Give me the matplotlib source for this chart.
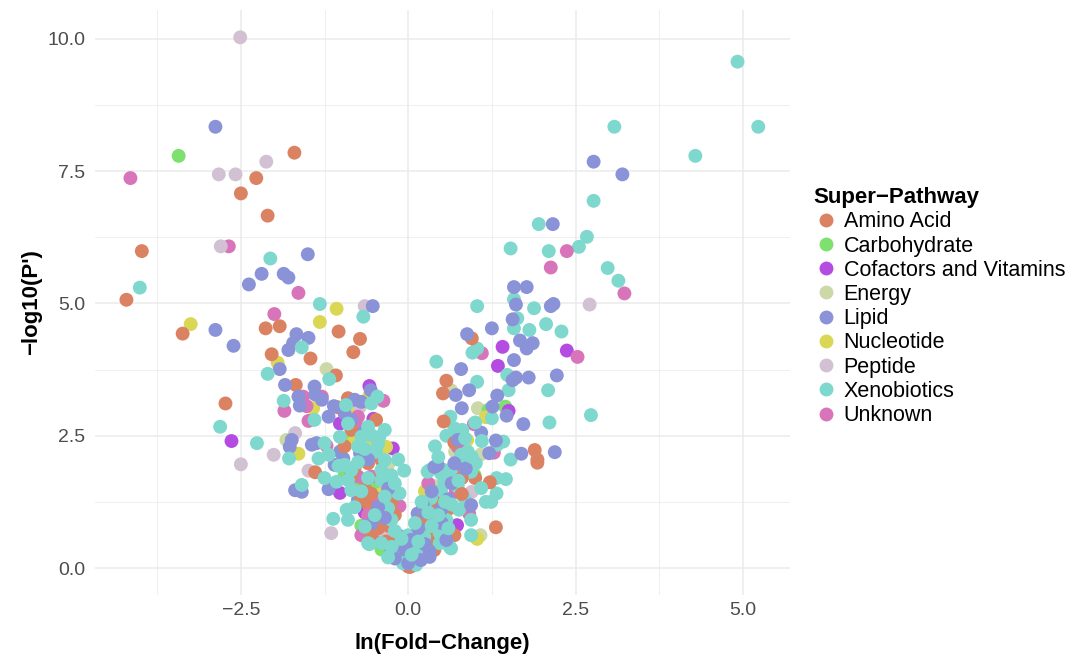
import matplotlib
matplotlib.use("Agg")
import matplotlib.pyplot as plt
from matplotlib.lines import Line2D

plt.rcParams['font.family'] = ['Liberation Sans', 'DejaVu Sans']

categories = ["Amino Acid", "Carbohydrate", "Cofactors and Vitamins", "Energy", "Lipid",
              "Nucleotide", "Peptide", "Xenobiotics", "Unknown"]
colors = ["#DA8262", "#7EE06E", "#B54CE1", "#CDD8A8", "#8A92D8",
          "#DAD755", "#D2C1D2", "#7ED8CD", "#D874B9"]

amino = [(-1.70,7.85),(-2.27,7.37),(-2.50,7.08),(-2.10,6.66),(-3.98,5.99),(-4.21,5.07),(-3.37,4.43),
         (-2.13,4.53),(-1.92,4.57),(-2.04,4.04),(-1.68,3.46),(-2.73,3.11),(-1.04,4.47),(-0.72,4.33),
         (-0.82,4.08),(-1.46,3.96),(-1.08,3.64),(-1.06,3.04),(-0.90,3.21),(-0.48,2.80),(-0.85,2.61),
         (-1.39,1.81),(-0.60,1.98),(-0.85,1.76),(-0.65,1.51),(-0.40,1.79),(-0.58,1.16),(-0.35,1.25),
         (-0.25,1.25),(-0.45,0.75),(-0.33,0.50),(-0.20,1.00),(0.00,0.03),(0.04,0.03),(0.95,4.34),
         (0.57,3.54),(0.52,3.30),(0.53,2.77),(0.69,2.37),(1.89,2.23),(1.93,2.05),(1.93,1.99),
         (1.22,1.62),(1.00,1.70),(0.66,1.63),(0.39,1.32),(0.62,1.13),(0.27,0.88),(0.52,0.78),
         (1.31,0.77),(0.69,0.62),(0.37,0.53),(0.17,0.66),(0.39,0.34),(0.02,0.02),(-0.40,2.04),
         (-0.13,0.21),(0.49,0.72),(0.29,0.53),(-0.55,1.40),(-0.30,0.80),(0.20,0.90),(0.45,1.20),
         (-0.70,1.30),(0.10,0.30),(-0.15,0.55),(0.80,1.40),(-0.95,2.30),(-0.55,0.60),(0.35,0.95),
         (-0.20,0.45),(0.10,0.15),(0.80,1.70),(-0.80,1.90)]
carbohydrate = [(-3.43,7.79),(-0.90,2.45),(-0.75,1.60),(-0.53,1.51),(-0.35,1.57),(-0.63,1.19),
                (-0.25,0.28),(-0.20,0.28),(0.99,1.76),(1.20,2.99),(1.45,3.05),(-0.70,0.80),
                (-0.45,0.95),(0.30,0.70),(-0.95,1.75),(-0.40,0.35),(-0.10,0.30),(0.55,1.05)]
cofactors = [(-2.64,2.40),(-0.58,3.44),(-1.02,2.73),(-0.52,2.82),(-0.23,2.26),(-1.02,1.42),
             (-0.43,0.53),(1.41,4.18),(2.37,4.11),(1.34,3.82),(1.50,2.97),(0.73,0.81),(0.09,0.59),
             (-0.65,1.05)]
energy = [(-1.82,2.42),(-1.22,3.76),(0.64,3.36),(1.04,3.02),(1.09,2.15),(1.08,0.62),
          (-0.60,1.20),(0.40,1.55),(-0.30,1.95),(0.70,2.20)]
lipid = [(-2.88,8.34),(-1.50,5.93),(-2.19,5.56),(-1.86,5.56),(-1.79,5.49),(-2.38,5.36),(-0.53,4.95),
         (-2.88,4.50),(-2.61,4.20),(-1.92,3.76),(-1.79,4.12),(-1.72,4.25),(-1.84,3.46),(-1.67,4.42),
         (-1.49,4.35),(-1.40,3.43),(-1.39,3.28),(-1.64,3.24),(-1.62,3.07),(-1.29,3.18),(-1.19,2.86),
         (-1.11,3.06),(-0.80,3.18),(-0.70,3.14),(-0.56,3.36),(-0.95,2.92),(-0.85,2.80),(-0.65,2.58),
         (-1.77,2.29),(-1.74,2.42),(-1.44,2.33),(-1.37,2.36),(-1.02,2.20),(-1.10,1.95),(-0.97,2.07),
         (-0.72,2.17),(-1.69,1.47),(-1.59,1.44),(-1.19,1.49),(-0.75,1.29),(-0.55,0.84),(-0.15,0.62),
         (0.14,1.03),(-0.15,0.25),(1.61,4.98),(2.13,4.95),(2.17,4.99),(1.56,4.70),(1.25,4.53),
         (0.88,4.42),(1.67,4.30),(1.86,4.25),(1.77,4.15),(1.58,3.93),(0.79,3.76),(1.61,3.60),
         (1.56,3.55),(1.80,3.60),(2.22,3.64),(0.71,3.27),(0.91,3.36),(1.33,3.26),(0.80,3.02),
         (1.26,3.05),(1.47,2.88),(1.72,2.72),(1.09,2.56),(0.74,2.42),(1.31,2.41),(2.19,2.19),
         (1.69,2.16),(1.21,2.17),(0.86,1.88),(0.69,1.98),(0.39,1.91),(0.94,1.19),(0.22,1.19),
         (0.24,1.06),(0.49,1.10),(0.42,0.91),(0.57,0.53),(0.32,0.21),(0.04,0.53),(0.19,0.15),
         (0.44,1.95),(0.32,0.31),(-0.20,0.18),(0.00,0.09),(0.09,0.53),(2.77,7.68),(3.20,7.44),
         (2.16,6.50),(1.58,5.31),(1.77,5.31),(-0.30,1.50),(-0.45,1.15),(0.15,0.75),(-0.05,0.35),
         (0.60,1.30),(-0.35,0.95),(0.35,1.45),(0.65,1.60),(-0.60,2.05),(0.25,0.45),(-0.25,0.35),
         (0.50,0.85)]
nucleotide = [(-1.07,4.90),(-1.32,4.65),(-3.25,4.61),(-1.95,3.88),(-1.42,3.02),(-0.80,3.05),
              (-0.58,3.25),(-0.82,2.38),(-0.53,2.36),(-0.33,2.29),(-1.64,2.16),(0.88,2.42),
              (1.16,2.85),(1.03,0.55),(-0.40,1.40),(0.25,1.45)]
peptide = [(-2.51,10.03),(-2.12,7.68),(-2.83,7.44),(-2.58,7.44),(-2.80,6.08),(-0.65,4.95),
           (-2.01,2.14),(-2.50,1.96),(-1.69,2.55),(-0.72,3.05),(-1.49,1.84),(-1.15,0.66),
           (0.95,1.44),(2.71,4.98),(-0.35,0.65)]
xenobiotics = [(4.92,9.57),(5.23,8.34),(3.08,8.34),(4.29,7.79),(2.77,6.94),(1.95,6.50),(1.53,6.04),
               (2.10,5.99),(2.55,6.07),(2.67,6.26),(2.98,5.67),(3.14,5.43),(1.58,5.08),(1.03,4.95),
               (1.88,4.91),(1.63,4.72),(1.58,4.53),(1.81,4.50),(2.06,4.61),(2.29,4.47),(1.03,4.15),
               (0.96,4.07),(0.42,3.90),(1.48,3.65),(1.50,3.36),(2.09,3.36),(1.03,3.52),(1.25,2.83),
               (2.73,2.89),(2.11,2.75),(0.63,2.86),(0.57,2.50),(0.81,2.61),(0.69,2.64),(1.42,2.39),
               (1.33,2.33),(1.53,2.05),(0.89,2.20),(0.79,2.14),(1.46,1.68),(1.32,1.70),(1.32,1.41),
               (1.16,1.25),(1.24,1.25),(1.09,1.51),(0.86,1.79),(1.01,1.98),(0.94,1.82),(0.84,2.04),
               (0.64,1.79),(0.49,1.79),(0.29,1.82),(0.54,1.63),(0.74,1.54),(0.84,1.32),(0.49,1.47),
               (-0.13,1.41),(0.37,1.13),(0.76,1.10),(0.94,0.91),(0.57,0.91),(0.94,0.62),(0.64,0.37),
               (0.47,0.66),(0.19,0.40),(0.24,0.59),(0.27,0.28),(-0.08,0.09),(0.12,0.06),(0.32,1.85),
               (0.54,1.85),(0.34,1.32),(0.47,0.47),(0.62,0.40),(0.19,0.21),(0.09,0.12),(0.14,0.40),
               (0.00,0.62),(-0.10,0.40),(-0.06,0.12),(-0.25,0.91),(-0.58,0.45),(-0.65,0.78),
               (-0.30,1.13),(-0.92,1.10),(-1.12,0.93),(-0.90,0.91),(-0.15,1.41),(-0.40,1.66),
               (-0.90,1.66),(-0.85,1.47),(-1.07,1.63),(-1.25,1.70),(-1.59,1.57),(-0.06,1.84),
               (-0.48,2.20),(-0.35,2.04),(-1.34,2.07),(-1.19,2.14),(-1.04,1.93),(-0.50,2.20),
               (-0.40,1.85),(-0.85,1.85),(-0.70,2.48),(-0.55,2.51),(-0.43,2.48),(-1.02,2.48),
               (-0.35,2.61),(-0.60,2.67),(-0.90,2.73),(-1.25,2.36),(-2.26,2.36),(-1.78,2.07),
               (-2.81,2.67),(-1.86,3.16),(-2.10,3.67),(-0.93,3.08),(-0.55,3.11),(-0.46,3.24),
               (-1.18,3.57),(-1.59,4.17),(-1.32,4.99),(-0.67,4.75),(-2.06,5.85),(-4.01,5.30),
               (-0.60,0.47),(-0.40,0.47),(-0.25,0.40),(-0.75,2.00),(-0.20,1.60),(0.10,0.85),
               (-0.60,1.70),(0.45,1.00),(-0.30,0.20),(0.35,0.80),(0.65,1.20),(-0.80,1.15),
               (1.10,2.40),(0.40,2.30),(-0.15,2.05),(-0.75,2.30),(1.00,2.75),(-1.40,2.80),
               (-0.25,1.75),(-0.20,0.70),(-0.50,1.00),(-0.70,1.45),(-0.95,1.95),(-0.35,1.35),
               (0.15,0.50),(0.30,1.05),(0.55,1.25),(0.75,1.65),(0.95,2.10),(0.05,0.25),
               (-0.10,0.55),(0.20,1.25),(0.60,0.75),(-0.45,2.35),(-0.65,2.25),(0.85,2.45),
               (0.45,2.10)]
unknown = [(-4.15,7.37),(-2.68,6.08),(-1.64,5.20),(-2.00,4.80),(-1.85,2.97),(-1.57,3.24),
           (-1.52,3.06),(-1.29,3.24),(-1.49,2.78),(-0.75,2.86),(-0.77,2.68),(-0.37,3.16),
           (-1.22,2.31),(-0.75,1.73),(-0.55,1.73),(-0.13,1.17),(-0.70,0.62),(-0.20,0.21),
           (-0.10,0.21),(1.10,4.06),(2.53,3.99),(0.98,2.72),(1.28,2.18),(0.74,2.29),(0.79,1.91),
           (0.66,1.88),(0.71,1.44),(0.91,1.03),(2.37,5.99),(2.13,5.68),(3.23,5.19),(0.30,1.60),
           (-0.45,1.30),(0.05,0.40),(-0.60,1.00)]

series = [amino, carbohydrate, cofactors, energy, lipid, nucleotide, peptide, xenobiotics, unknown]

# interleave categories (round-robin) so that drawing order is mixed
xs, ys, cs = [], [], []
maxlen = max(len(s) for s in series)
for i in range(maxlen):
    for s, col in zip(series, colors):
        if i < len(s):
            xs.append(s[i][0]); ys.append(s[i][1]); cs.append(col)

fig = plt.figure(figsize=(10.73, 6.56), dpi=100)
ax = fig.add_axes([0.0885, 0.093, 0.6475, 0.892])

ax.scatter(xs, ys, c=cs, s=100, linewidths=0, zorder=3)

ax.set_xlim(-4.68, 5.70)
ax.set_ylim(-0.51, 10.55)
ax.set_xticks([-2.5, 0.0, 2.5, 5.0])
ax.set_xticks([-3.75, -1.25, 1.25, 3.75], minor=True)
ax.set_yticks([0.0, 2.5, 5.0, 7.5, 10.0])
ax.set_yticks([1.25, 3.75, 6.25, 8.75], minor=True)
ax.set_xticklabels(["\u22122.5", "0.0", "2.5", "5.0"])
ax.set_yticklabels(["0.0", "2.5", "5.0", "7.5", "10.0"])
ax.grid(True, which='major', color='#EBEBEB', linewidth=1.1, zorder=0)
ax.grid(True, which='minor', color='#EBEBEB', linewidth=0.55, zorder=0)
ax.set_axisbelow(True)
for sp in ax.spines.values():
    sp.set_visible(False)
ax.tick_params(axis='x', which='both', length=0, labelsize=14, labelcolor='#4D4D4D', pad=5)
ax.tick_params(axis='y', which='both', length=0, labelsize=14, labelcolor='#4D4D4D', pad=7)

ax.set_xlabel("ln(Fold\u2212Change)", fontsize=16, fontweight='bold', labelpad=10)
ax.set_ylabel("\u2212log10(P')", fontsize=16, fontweight='bold', labelpad=4)

handles = [Line2D([0], [0], marker='o', linestyle='none', markersize=10,
                  markerfacecolor=c, markeredgewidth=0) for c in colors]
leg = fig.legend(handles, categories, title="Super\u2212Pathway", loc='upper left',
                 bbox_to_anchor=(0.750, 0.728), frameon=False, fontsize=15.5,
                 title_fontproperties={'weight': 'bold', 'size': 16},
                 handletextpad=0.2, labelspacing=0.15, handlelength=1.2, borderaxespad=0)
leg._legend_box.align = "left"

fig.savefig("out.png", dpi=100)
